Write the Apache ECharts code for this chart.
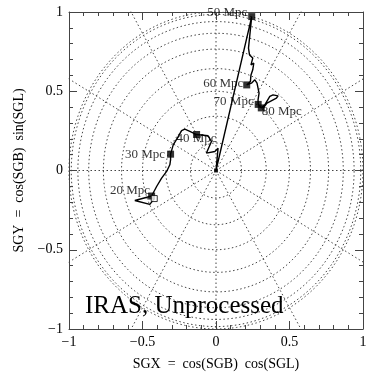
<!DOCTYPE html>
<html>
<head>
<meta charset="utf-8">
<script src="https://cdn.jsdelivr.net/npm/echarts@6/dist/echarts.min.js"></script>
<style>
  html, body { margin: 0; padding: 0; background: #fff; }
  #chart { width: 382px; height: 382px; }
</style>
</head>
<body>
<div id="chart"></div>
<script>
const chart = echarts.init(document.getElementById('chart'), null, { renderer: 'canvas' });

// graticule: circles of constant SGB (radius = cos SGB) and meridians of constant SGL
const gridSGB = [0, 10, 20, 30, 40, 50, 60, 70, 80];
const gridSGL = [0, 30, 60, 90, 120, 150, 180, 210, 240, 270, 300, 330];

// dipole direction track
const pathX = [-0.420, -0.450, -0.552, -0.438, -0.404, -0.370, -0.336, -0.314, -0.309, -0.309,
  -0.291, -0.257, -0.234, -0.212, -0.178, -0.132, -0.054, -0.031, -0.065, -0.008, 0.014, 0.000,
  0.243, 0.221, 0.228, 0.250, 0.238, 0.257, 0.250, 0.238, 0.234, 0.209,
  0.241, 0.264, 0.279, 0.293, 0.286, 0.287, 0.308,
  0.332, 0.366, 0.388, 0.422, 0.411, 0.347, 0.320];
const pathY = [-0.177, -0.214, -0.189, -0.161, -0.101, -0.048, -0.006, 0.036, 0.067, 0.103,
  0.162, 0.214, 0.252, 0.261, 0.247, 0.227, 0.219, 0.183, 0.110, 0.120, 0.141, 0.000,
  0.971, 0.772, 0.729, 0.709, 0.666, 0.677, 0.635, 0.603, 0.561, 0.540,
  0.551, 0.572, 0.551, 0.488, 0.446, 0.417, 0.395,
  0.414, 0.467, 0.477, 0.471, 0.456, 0.425, 0.393];

// distance markers
const markNames = ['20 Mpc', '30 Mpc', '40 Mpc', '50 Mpc', '60 Mpc', '70 Mpc', '80 Mpc'];
const markX = [-0.438, -0.309, -0.132, 0.243, 0.209, 0.287, 0.308];
const markY = [-0.161, 0.103, 0.227, 0.971, 0.540, 0.417, 0.395];
const startX = [-0.420];
const startY = [-0.177];
const originX = [0];
const originY = [0];

const tickLabels = [-1, -0.5, 0, 0.5, 1];

// label placement (style only)
const labelPlace = {
  '20 Mpc': { position: 'left', distance: 0, offset: [2, -5] },
  '30 Mpc': { position: 'left', distance: 2, offset: [0, 0] },
  '40 Mpc': { position: 'inside', distance: 0, offset: [0, 4] },
  '50 Mpc': { position: 'left', distance: 0, offset: [-1, -4] },
  '60 Mpc': { position: 'left', distance: 0, offset: [0, -1] },
  '70 Mpc': { position: 'left', distance: 1, offset: [0, -3] },
  '80 Mpc': { position: 'right', distance: 0, offset: [-3, 4] }
};

const SERIF = 'Liberation Serif';
const dotStyle = { color: '#444', width: 1, type: [1.5, 2.5] };

const series = [];

gridSGB.forEach((b) => {
  const r = Math.cos(b * Math.PI / 180);
  const pts = [];
  for (let a = 0; a <= 360; a += 2) {
    pts.push([r * Math.cos(a * Math.PI / 180), r * Math.sin(a * Math.PI / 180)]);
  }
  series.push({ type: 'line', data: pts, showSymbol: false, silent: true, lineStyle: dotStyle, z: 1 });
});

gridSGL.forEach((l) => {
  const c = Math.cos(l * Math.PI / 180), s = Math.sin(l * Math.PI / 180);
  series.push({ type: 'line', data: [[0, 0], [1.6 * c, 1.6 * s]], showSymbol: false, silent: true, lineStyle: dotStyle, z: 1 });
});

series.push({
  type: 'line',
  data: pathX.map((x, i) => [x, pathY[i]]),
  showSymbol: false,
  lineStyle: { color: '#000', width: 1.4 },
  z: 3
});

series.push({
  type: 'scatter',
  data: markX.map((x, i) => ({ value: [x, markY[i]], name: markNames[i], label: labelPlace[markNames[i]] })),
  symbol: 'rect',
  symbolSize: 7,
  itemStyle: { color: '#000' },
  label: {
    show: true,
    formatter: (p) => p.name,
    fontFamily: SERIF,
    fontSize: 13,
    color: '#000'
  },
  z: 4
});

series.push({
  type: 'scatter',
  data: startX.map((x, i) => [x, startY[i]]),
  symbol: 'rect',
  symbolSize: 6,
  itemStyle: { color: '#fff', borderColor: '#000', borderWidth: 1 },
  z: 4
});

series.push({
  type: 'scatter',
  data: originX.map((x, i) => [x, originY[i]]),
  symbol: 'rect',
  symbolSize: 4,
  itemStyle: { color: '#000' },
  z: 4
});

const fmt = (v) => (tickLabels.includes(v) ? String(v).replace('-', '\u2212') : '');

const axisCommon = {
  type: 'value',
  min: -1,
  max: 1,
  interval: 0.5,
  splitLine: { show: false },
  axisLine: { show: true, onZero: false, lineStyle: { color: '#444', width: 1 } },
  axisTick: { show: true, inside: true, length: 8, lineStyle: { color: '#444' } },
  minorTick: { show: true, splitNumber: 5, length: 4, lineStyle: { color: '#444' } }
};

const option = {
  animation: false,
  backgroundColor: '#fff',
  grid: { left: 69, right: 19, top: 12, bottom: 53 },
  xAxis: [
    Object.assign({}, axisCommon, {
      position: 'bottom',
      name: 'SGX  =  cos(SGB)  cos(SGL)',
      nameLocation: 'middle',
      nameGap: 28,
      nameTextStyle: { fontFamily: SERIF, fontSize: 14, color: '#000' },
      axisLabel: { formatter: fmt, fontFamily: SERIF, fontSize: 14, color: '#000', margin: 6 }
    }),
    Object.assign({}, axisCommon, { position: 'top', axisLabel: { show: false } })
  ],
  yAxis: [
    Object.assign({}, axisCommon, {
      position: 'left',
      name: 'SGY  =  cos(SGB)  sin(SGL)',
      nameLocation: 'middle',
      nameGap: 37,
      nameTextStyle: { fontFamily: SERIF, fontSize: 14, color: '#000' },
      axisLabel: { formatter: fmt, fontFamily: SERIF, fontSize: 14, color: '#000', margin: 6 }
    }),
    Object.assign({}, axisCommon, { position: 'right', axisLabel: { show: false } })
  ],
  graphic: [{
    type: 'text',
    left: 85,
    top: 294,
    z: 10,
    style: { text: 'IRAS, Unprocessed', font: '25px "Liberation Serif"', fill: '#000' }
  }],
  series: series
};

chart.setOption(option);
</script>
</body>
</html>
